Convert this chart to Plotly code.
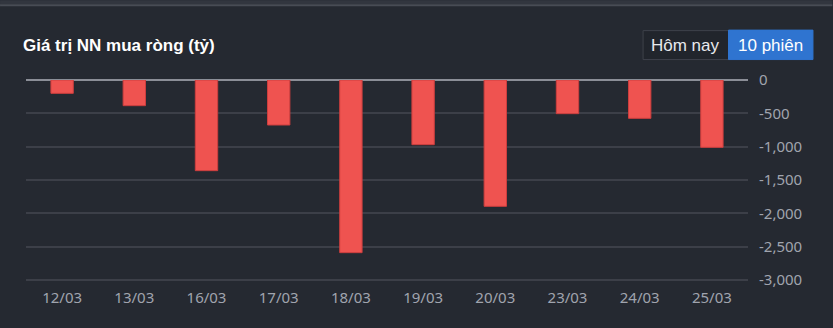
import plotly.graph_objects as go

dates = ["12/03", "13/03", "16/03", "17/03", "18/03", "19/03", "20/03", "23/03", "24/03", "25/03"]
net_buy = [-200, -385, -1360, -675, -2590, -970, -1895, -505, -575, -1010]
y_ticks = [0, -500, -1000, -1500, -2000, -2500, -3000]
y_tick_labels = ["0", "-500", "-1,000", "-1,500", "-2,000", "-2,500", "-3,000"]
title_text = "Giá trị NN mua ròng (tỷ)"
btn_labels = ["Hôm nay", "10 phiên"]

W, H = 833, 328
L, R, T, B = 26, 84.5, 80, 45.5
pw, ph = W - L - R, H - T - B


def px(x):
    return (x - L) / pw


def py(y):
    return (H - B - y) / ph


BG = "rgb(37,41,49)"
fig = go.Figure()
fig.add_trace(go.Bar(
    x=dates, y=net_buy,
    marker=dict(color="rgb(239,83,80)", line=dict(color="rgb(205,62,62)", width=1)),
    hoverinfo="x+y",
))

shapes = [
    dict(type="rect", xref="paper", yref="paper", x0=px(0), x1=px(W), y0=py(0), y1=py(4),
         fillcolor="rgb(50,54,63)", line=dict(width=0), layer="below"),
    dict(type="rect", xref="paper", yref="paper", x0=px(0), x1=px(W), y0=py(4), y1=py(6),
         fillcolor="rgb(72,76,85)", line=dict(width=0), layer="below"),
    # buttons
    dict(type="rect", xref="paper", yref="paper", x0=px(643.5), x1=px(729), y0=py(30.5), y1=py(59.5),
         fillcolor="rgb(33,37,44)", line=dict(color="rgb(62,66,75)", width=1), layer="below"),
    dict(type="rect", xref="paper", yref="paper", x0=px(729), x1=px(813.5), y0=py(30), y1=py(59.5),
         fillcolor="rgb(47,116,208)", line=dict(color="rgb(47,116,208)", width=1), layer="below"),
]

annotations = [
    dict(text="<b>" + title_text + "</b>", xref="paper", yref="paper", x=px(21), y=py(45),
         xanchor="left", yanchor="middle", showarrow=False,
         font=dict(family="Liberation Sans, Arial", size=17, color="#ffffff")),
    dict(text=btn_labels[0], xref="paper", yref="paper", x=px(686), y=py(45),
         xanchor="center", yanchor="middle", showarrow=False,
         font=dict(family="Liberation Sans, Arial", size=17, color="#e8e9ec")),
    dict(text=btn_labels[1], xref="paper", yref="paper", x=px(771.5), y=py(45),
         xanchor="center", yanchor="middle", showarrow=False,
         font=dict(family="Liberation Sans, Arial", size=17, color="#ffffff")),
]

fig.update_layout(
    width=W, height=H,
    margin=dict(l=L, r=R, t=T, b=B, pad=0),
    paper_bgcolor=BG, plot_bgcolor=BG,
    bargap=0.69,
    showlegend=False,
    shapes=shapes,
    annotations=annotations,
    font=dict(family="Noto Sans", size=15, color="rgb(160,164,174)"),
    xaxis=dict(showgrid=False, zeroline=False, showline=False, ticks="",
               ticklabelstandoff=5,
               tickfont=dict(size=15, color="rgb(160,164,174)"), fixedrange=True),
    yaxis=dict(side="right", range=[-3030, 0], tickvals=y_ticks, ticktext=y_tick_labels,
               showgrid=True, gridcolor="rgb(60,63,72)", gridwidth=1.5,
               zeroline=True, zerolinecolor="rgb(139,142,151)", zerolinewidth=2,
               showline=False, ticks="", ticklabelstandoff=10,
               tickfont=dict(size=15, color="rgb(160,164,174)"), fixedrange=True),
)

fig.write_html("out.html")
